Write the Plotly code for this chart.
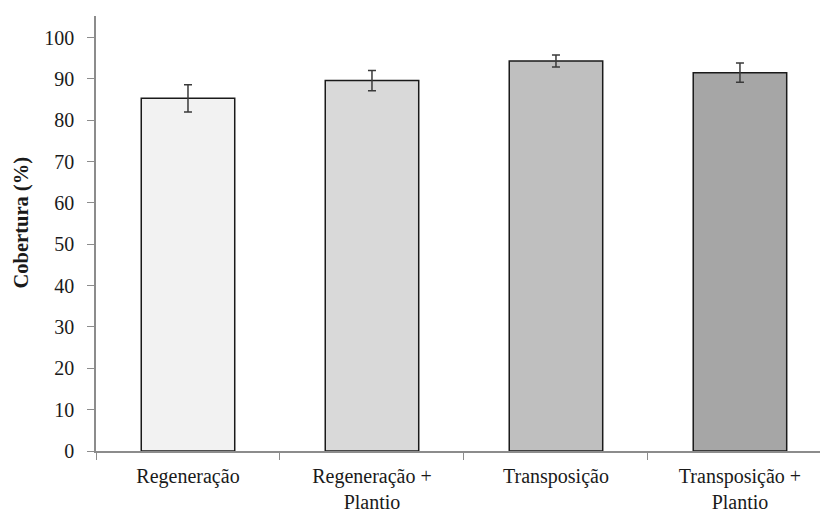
import plotly.graph_objects as go

# Cobertura do solo por tratamento (média ± erro)
categorias = ["Regeneração", "Regeneração +<br>Plantio", "Transposição", "Transposição +<br>Plantio"]
cobertura = [85.3, 89.6, 94.3, 91.5]
erro = [3.3, 2.45, 1.45, 2.35]
cores = ["#f2f2f2", "#d9d9d9", "#bfbfbf", "#a6a6a6"]
ticks_y = list(range(0, 101, 10))
titulo_y = "Cobertura (%)"

serif = "Liberation Serif, Times New Roman, serif"
cinza_eixo = "#8c8c8c"
texto = "#1a1a1a"

fig = go.Figure(
    go.Bar(
        x=categorias,
        y=cobertura,
        marker=dict(color=cores, line=dict(color=texto, width=1.5)),
        error_y=dict(type="data", array=erro, visible=True,
                     color="#3a3a3a", thickness=1.5, width=4),
        width=0.508,
    )
)

fig.update_layout(
    width=820,
    height=515,
    margin=dict(l=96, r=0, t=16, b=64),
    paper_bgcolor="white",
    plot_bgcolor="white",
    showlegend=False,
    font=dict(family=serif, size=20, color=texto),
)

fig.update_xaxes(
    type="category",
    range=[-0.5, 3.435],
    automargin=False,
    showline=True, linecolor=cinza_eixo, linewidth=1.5,
    ticks="outside", tickson="boundaries", ticklen=7,
    tickcolor=cinza_eixo, tickwidth=1.2,
    showgrid=False, zeroline=False,
    tickfont=dict(family=serif, size=20, color=texto),
    ticklabelstandoff=6,
)

fig.update_yaxes(
    range=[0, 105.2],
    tickvals=ticks_y,
    automargin=False,
    showline=True, linecolor=cinza_eixo, linewidth=1.5,
    ticks="outside", ticklen=7, tickcolor=cinza_eixo, tickwidth=1.2,
    showgrid=False, zeroline=False,
    tickfont=dict(family=serif, size=20, color=texto),
    ticklabelstandoff=9,
)

# Título do eixo y, girado
fig.add_annotation(
    text=f"<b>{titulo_y}</b>",
    textangle=-90,
    xref="paper", yref="paper",
    x=(21 - 96) / 724, y=(451 - 222.5) / 435,
    xanchor="center", yanchor="middle",
    showarrow=False,
    font=dict(family=serif, size=20.5, color=texto),
)

fig.write_html("out.html")
